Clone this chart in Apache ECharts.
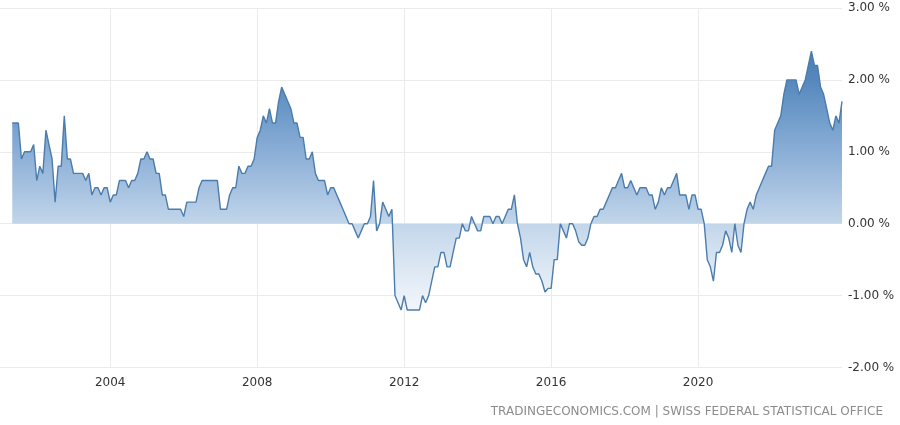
<!DOCTYPE html>
<html>
<head>
<meta charset="utf-8">
<script src="https://cdn.jsdelivr.net/npm/echarts@6/dist/echarts.min.js"></script>
<style>
html,body{margin:0;padding:0;background:#fff;}
#chart{width:900px;height:425px;}
</style>
</head>
<body>
<div id="chart"></div>
<script>
// Swiss core inflation rate, monthly, May 2001 – Dec 2023 (%)
const firstMonth = { year: 2001, month: 5 };
const coreInflation = [
  // 2001 (May–Dec)
  1.4, 1.4, 1.4, 0.9, 1.0, 1.0, 1.0, 1.1,
  // 2002
  0.6, 0.8, 0.7, 1.3, 1.1, 0.9, 0.3, 0.8, 0.8, 1.5, 0.9, 0.9,
  // 2003
  0.7, 0.7, 0.7, 0.7, 0.6, 0.7, 0.4, 0.5, 0.5, 0.4, 0.5, 0.5,
  // 2004
  0.3, 0.4, 0.4, 0.6, 0.6, 0.6, 0.5, 0.6, 0.6, 0.7, 0.9, 0.9,
  // 2005
  1.0, 0.9, 0.9, 0.7, 0.7, 0.4, 0.4, 0.2, 0.2, 0.2, 0.2, 0.2,
  // 2006
  0.1, 0.3, 0.3, 0.3, 0.3, 0.5, 0.6, 0.6, 0.6, 0.6, 0.6, 0.6,
  // 2007
  0.2, 0.2, 0.2, 0.4, 0.5, 0.5, 0.8, 0.7, 0.7, 0.8, 0.8, 0.9,
  // 2008
  1.2, 1.3, 1.5, 1.4, 1.6, 1.4, 1.4, 1.7, 1.9, 1.8, 1.7, 1.6,
  // 2009
  1.4, 1.4, 1.2, 1.2, 0.9, 0.9, 1.0, 0.7, 0.6, 0.6, 0.6, 0.4,
  // 2010
  0.5, 0.5, 0.4, 0.3, 0.2, 0.1, 0.0, 0.0, -0.1, -0.2, -0.1, 0.0,
  // 2011
  0.0, 0.1, 0.6, -0.1, 0.0, 0.3, 0.2, 0.1, 0.2, -1.0, -1.1, -1.2,
  // 2012
  -1.0, -1.2, -1.2, -1.2, -1.2, -1.2, -1.0, -1.1, -1.0, -0.8, -0.6, -0.6,
  // 2013
  -0.4, -0.4, -0.6, -0.6, -0.4, -0.2, -0.2, 0.0, -0.1, -0.1, 0.1, 0.0,
  // 2014
  -0.1, -0.1, 0.1, 0.1, 0.1, 0.0, 0.1, 0.1, 0.0, 0.1, 0.2, 0.2,
  // 2015
  0.4, 0.0, -0.2, -0.5, -0.6, -0.4, -0.6, -0.7, -0.7, -0.8, -0.95, -0.9,
  // 2016
  -0.9, -0.5, -0.5, 0.0, -0.1, -0.2, 0.0, 0.0, -0.1, -0.25, -0.3, -0.3,
  // 2017
  -0.2, 0.0, 0.1, 0.1, 0.2, 0.2, 0.3, 0.4, 0.5, 0.5, 0.6, 0.7,
  // 2018
  0.5, 0.5, 0.6, 0.5, 0.4, 0.5, 0.5, 0.5, 0.4, 0.4, 0.2, 0.3,
  // 2019
  0.5, 0.4, 0.5, 0.5, 0.6, 0.7, 0.4, 0.4, 0.4, 0.2, 0.4, 0.4,
  // 2020
  0.2, 0.2, 0.0, -0.5, -0.6, -0.8, -0.4, -0.4, -0.3, -0.1, -0.2, -0.4,
  // 2021
  0.0, -0.3, -0.4, 0.0, 0.2, 0.3, 0.2, 0.4, 0.5, 0.6, 0.7, 0.8,
  // 2022
  0.8, 1.3, 1.4, 1.5, 1.8, 2.0, 2.0, 2.0, 2.0, 1.8, 1.9, 2.0,
  // 2023
  2.2, 2.4, 2.2, 2.2, 1.9, 1.8, 1.6, 1.4, 1.3, 1.5, 1.4, 1.7
];
const yearTicks = [2004, 2008, 2012, 2016, 2020];
const yTicks = { min: -2, max: 3, step: 1 };
const sourceText = 'TRADINGECONOMICS.COM | SWISS FEDERAL STATISTICAL OFFICE';

// month labels and decimal-year positions
const months = coreInflation.map((_, i) => {
  const t = firstMonth.year * 12 + (firstMonth.month - 1) + i;
  return { year: Math.floor(t / 12), month: (t % 12) + 1 };
});
const seriesData = months.map((m, i) => [m.year + (m.month - 1) / 12, coreInflation[i]]);

const FONT = 'DejaVu Sans';
const chart = echarts.init(document.getElementById('chart'), null, { renderer: 'canvas' });
chart.setOption({
  animation: false,
  backgroundColor: '#ffffff',
  grid: { left: 0, right: 58, top: 8, bottom: 57.5, containLabel: false },
  xAxis: {
    type: 'value',
    min: 2001,
    max: 2023 + 11 / 12,
    axisLine: { show: false },
    axisTick: { show: true, customValues: yearTicks, length: 4, lineStyle: { color: '#e6e6e6' } },
    axisLabel: {
      customValues: yearTicks,
      formatter: v => String(Math.round(v)),
      color: '#333333',
      fontFamily: FONT,
      fontSize: 12,
      margin: 9
    },
    splitLine: { show: true, lineStyle: { color: '#ebebeb', width: 1 } }
  },
  yAxis: {
    type: 'value',
    position: 'right',
    min: yTicks.min,
    max: yTicks.max,
    interval: yTicks.step,
    axisLine: { show: false },
    axisTick: { show: false },
    axisLabel: {
      formatter: v => v.toFixed(2) + ' %',
      color: '#333333',
      fontFamily: FONT,
      fontSize: 12,
      margin: 6
    },
    splitLine: { show: true, lineStyle: { color: '#ebebeb', width: 1 } }
  },
  series: [{
    type: 'line',
    data: seriesData,
    showSymbol: false,
    smooth: false,
    lineStyle: { color: '#4b7cab', width: 1.4 },
    itemStyle: { color: '#4b7cab' },
    areaStyle: {
      origin: 0,
      opacity: 1,
      color: new echarts.graphic.LinearGradient(0, 0, 0, 1, [
        { offset: 0, color: '#4a7db3' },
        { offset: 0.12, color: '#5889be' },
        { offset: 0.26, color: '#719dcb' },
        { offset: 0.40, color: '#8db0d7' },
        { offset: 0.54, color: '#a8c3e1' },
        { offset: 0.667, color: '#c2d6ea' },
        { offset: 0.81, color: '#d8e5f2' },
        { offset: 1, color: '#f2f6fb' }
      ])
    }
  }],
  graphic: [{
    type: 'text',
    right: 17,
    top: 406,
    style: { text: sourceText, fill: '#8c8c8c', font: '12px "DejaVu Sans"' }
  }]
});
</script>
</body>
</html>
